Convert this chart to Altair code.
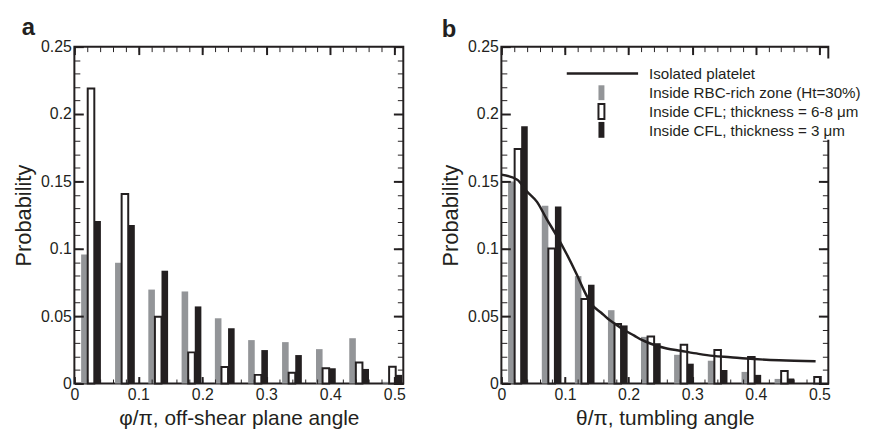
import altair as alt
import pandas as pd

INK = "#231f20"
GREY = "#939598"
FONT = "Liberation Sans"

# ---- data ----
centers = [0.026, 0.079, 0.131, 0.183, 0.235, 0.287, 0.340, 0.393, 0.445, 0.497]
series = ["Inside RBC-rich zone (Ht=30%)",
          "Inside CFL; thickness = 6-8 \u03bcm",
          "Inside CFL, thickness = 3 \u03bcm"]
line_name = "Isolated platelet"

# panel a: off-shear plane angle
a_rbc = [0.0958, 0.0896, 0.0697, 0.0683, 0.0484, 0.0322, 0.0307, 0.0255, 0.0336, 0.0012]
a_cfl68 = [0.2190, 0.1407, 0.0496, 0.0231, 0.0123, 0.0064, 0.0079, 0.0113, 0.0155, 0.0125]
a_cfl3 = [0.1206, 0.1176, 0.0837, 0.0572, 0.0410, 0.0248, 0.0211, 0.0113, 0.0108, 0.0064]

# panel b: tumbling angle
b_rbc = [0.1500, 0.1320, 0.0797, 0.0544, 0.0346, 0.0213, 0.0169, 0.0086, 0.0034, 0.0]
b_cfl68 = [0.1740, 0.1002, 0.0627, 0.0441, 0.0348, 0.0287, 0.0248, 0.0196, 0.0093, 0.0049]
b_cfl3 = [0.1910, 0.1314, 0.0733, 0.0431, 0.0299, 0.0147, 0.0100, 0.0064, 0.0037, 0.0]

iso_x = [0, 0.025, 0.04, 0.056, 0.0715, 0.087, 0.1026, 0.118, 0.131, 0.1415, 0.157,
         0.1675, 0.178, 0.193, 0.209, 0.22, 0.235, 0.26, 0.2815, 0.31, 0.333, 0.36,
         0.385, 0.437, 0.494]
iso_y = [0.155, 0.1512, 0.1426, 0.1348, 0.1218, 0.1096, 0.0961, 0.0814, 0.068, 0.059,
         0.0525, 0.048, 0.0445, 0.0397, 0.0355, 0.0325, 0.0295, 0.026, 0.0243, 0.022,
         0.0205, 0.0195, 0.0185, 0.0172, 0.0165]

x_major = [0, 0.1, 0.2, 0.3, 0.4, 0.5]
x_minor = [0, 0.02, 0.04, 0.06, 0.08, 0.1, 0.12, 0.14, 0.16, 0.18, 0.2, 0.22, 0.24,
           0.26, 0.28, 0.3, 0.32, 0.34, 0.36, 0.38, 0.4, 0.42, 0.44, 0.46, 0.48, 0.5]
y_major = [0, 0.05, 0.1, 0.15, 0.2, 0.25]
y_minor = [0, 0.01, 0.02, 0.03, 0.04, 0.05, 0.06, 0.07, 0.08, 0.09, 0.1, 0.11, 0.12,
           0.13, 0.14, 0.15, 0.16, 0.17, 0.18, 0.19, 0.2, 0.21, 0.22, 0.23, 0.24, 0.25]

legend_labels = [line_name] + series

X_DOMAIN = [0, 0.514]
Y_DOMAIN = [0, 0.25]
BAR_W = 0.0103
H = 340


def bar_frame(values_by_series):
    rows = []
    for k, (name, vals) in enumerate(zip(series, values_by_series)):
        for c, v in zip(centers, vals):
            left = c + (k - 1.5) * BAR_W
            rows.append({"series": name, "x0": left, "x1": left + BAR_W, "p": v})
    return pd.DataFrame(rows)


def ax(orient, values, size, labels=False, title=None, zindex=1, tw=1.0, pad=3, tpad=4,
       tsize=22):
    kw = dict(orient=orient, values=values, tickSize=size, offset=-size, domain=False,
              grid=False, labels=labels, ticks=True, tickWidth=tw, tickColor=INK,
              zindex=zindex, minExtent=0)
    if labels:
        kw.update(format="~g", labelPadding=pad, labelFlush=False, labelOverlap=False,
                  labelFont=FONT, labelFontSize=16, labelColor=INK)
    if title:
        kw.update(title=title, titleFont=FONT, titleFontSize=tsize, titleFontWeight="normal",
                  titleColor=INK, titlePadding=tpad)
    else:
        kw["title"] = None
    return alt.Axis(**kw)


def panel(df, xtitle, letter, width, with_line=False, dx=0, toff=-1):
    xs = alt.Scale(domain=X_DOMAIN, nice=False, zero=False)
    ys = alt.Scale(domain=Y_DOMAIN, nice=False, zero=False)
    base = alt.Chart(df)

    def bars(name, **mk):
        return base.transform_filter(alt.datum.series == name).mark_rect(**mk).encode(
            x=alt.X("x0:Q", scale=xs, axis=None),
            x2="x1:Q",
            y=alt.Y("p:Q", scale=ys, axis=None),
            y2=alt.datum(0),
        )

    grey = bars(series[0], fill=GREY)
    white = bars(series[1], fill="white", stroke=INK, strokeWidth=2)
    black = bars(series[2], fill=INK)

    main_axes = base.mark_point(opacity=0).encode(
        x=alt.X("x0:Q", scale=xs,
                axis=ax("bottom", x_major, 7, labels=True, title=xtitle, tw=2, pad=3, tpad=5,
                        tsize=21)),
        y=alt.Y("p:Q", scale=ys,
                axis=ax("left", y_major, 9, labels=True, title="Probability", tw=2, pad=3,
                        tpad=5)),
    )
    minor_axes = base.mark_point(opacity=0).encode(
        x=alt.X("x0:Q", scale=xs, axis=ax("bottom", x_minor, 4.5)),
        y=alt.Y("p:Q", scale=ys, axis=ax("left", y_minor, 5.5)),
    )
    opp_major = base.mark_point(opacity=0).encode(
        x=alt.X("x0:Q", scale=xs, axis=ax("top", x_major, 8, tw=2)),
        y=alt.Y("p:Q", scale=ys, axis=ax("right", y_major, 10, tw=2, zindex=0)),
    )
    opp_minor = base.mark_point(opacity=0).encode(
        x=alt.X("x0:Q", scale=xs, axis=ax("top", x_minor, 5)),
        y=alt.Y("p:Q", scale=ys, axis=ax("right", y_minor, 6, zindex=0)),
    )

    layers = [grey, white, black]
    if with_line:
        line_df = pd.DataFrame({"x": iso_x, "y": iso_y})
        layers.append(
            alt.Chart(line_df).mark_line(color=INK, strokeWidth=2.5, interpolate="monotone")
            .encode(x=alt.X("x:Q", scale=xs, axis=None), y=alt.Y("y:Q", scale=ys, axis=None))
        )
    layers += [main_axes, minor_axes, opp_major, opp_minor]

    if with_line:
        one = alt.Chart(pd.DataFrame({"k": [0]}))
        layers += [
            one.mark_rect(fill="white").encode(
                x=alt.value(56), x2=alt.value(345), y=alt.value(12), y2=alt.value(94)),
            one.mark_rule(color=INK, strokeWidth=2.5).encode(
                x=alt.value(66), x2=alt.value(138), y=alt.value(27)),
            one.mark_rect(fill=GREY).encode(
                x=alt.value(98), x2=alt.value(104), y=alt.value(39), y2=alt.value(54)),
            one.mark_rect(fill="white", stroke=INK, strokeWidth=2).encode(
                x=alt.value(98), x2=alt.value(104), y=alt.value(58), y2=alt.value(73)),
            one.mark_rect(fill=INK).encode(
                x=alt.value(98), x2=alt.value(104), y=alt.value(76), y2=alt.value(92)),
            one.mark_text(align="left", baseline="alphabetic", lineHeight=19, fontSize=15.3,
                          font=FONT, color=INK).encode(
                x=alt.value(149), y=alt.value(33), text=alt.value(legend_labels)),
        ]

    return alt.layer(*layers).resolve_axis(x="independent", y="independent").properties(
        width=width, height=H,
        title=alt.TitleParams(letter, anchor="start", frame="bounds", fontSize=24,
                              fontWeight="bold", font=FONT, color=INK, offset=toff, dx=dx),
    )


left = panel(bar_frame([a_rbc, a_cfl68, a_cfl3]),
             "\u03c6/\u03c0, off-shear plane angle", "a", 332, dx=9, toff=-1)
right = panel(bar_frame([b_rbc, b_cfl68, b_cfl3]),
              "\u03b8/\u03c0, tumbling angle", "b", 330, with_line=True, dx=2, toff=-3)

chart = alt.hconcat(left, right, spacing=31).configure(
    padding={"left": 3, "top": 5, "right": 0, "bottom": 6}
).configure_view(stroke=INK, strokeWidth=2)

chart.save("out.html", embed_options={"renderer": "svg", "actions": False})
